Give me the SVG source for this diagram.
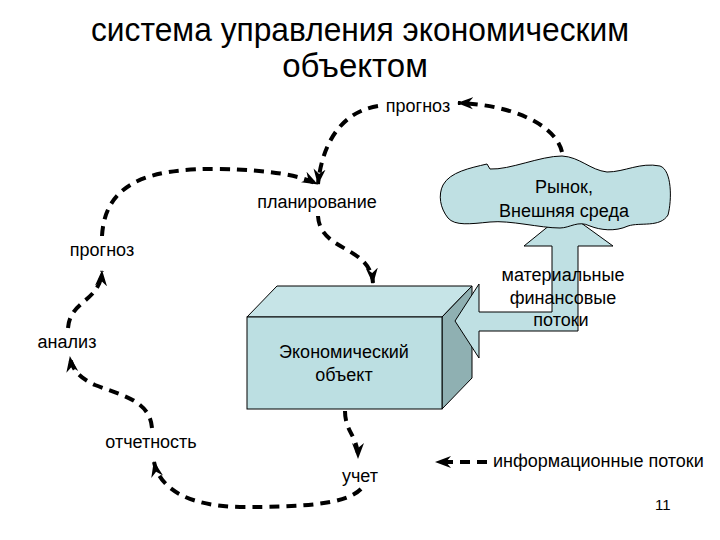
<svg xmlns="http://www.w3.org/2000/svg" width="720" height="540" viewBox="0 0 720 540">
<defs>
<style>
text{font-family:"Liberation Sans",Arial,sans-serif;fill:#000}
.lbl{font-size:18px;text-anchor:middle}
.title{font-size:33px;text-anchor:middle}
.dash{fill:none;stroke:#000;stroke-width:4;stroke-dasharray:10 7}
.shape{stroke:#000;stroke-width:1}
</style>
<marker id="ah" markerUnits="userSpaceOnUse" markerWidth="16" markerHeight="14" viewBox="0 0 16 14" refX="15" refY="7" orient="auto">
<path d="M0,1 L16,7 L0,13 L5,7 Z" fill="#000"/>
</marker>
</defs>
<rect width="720" height="540" fill="#fff"/>
<g id="title">
<text class="title" x="360" y="41" textLength="538" lengthAdjust="spacingAndGlyphs">система управления экономическим</text>
<text class="title" x="355" y="77">объектом</text>
</g>
<g id="object">
<polygon class="shape" fill="#c6e4e7" points="247,317 277,286 472,286 442,317"/>
<polygon class="shape" fill="#8fb0b2" points="442,317 472,286 472,378 442,409"/>
<rect class="shape" x="247" y="317" width="195" height="92" fill="#bcdfe2"/>
<text class="lbl" x="344" y="358">Экономический</text>
<text class="lbl" x="344" y="381">объект</text>
</g>
<g id="flow-arrow">
<polygon class="shape" fill="#bfe0e3" points="455,321 479,284 479,312 552,312 552,246 524,246 566,212 613,246 578,246 578,331 479,331 479,358"/>
</g>
<g id="market">
<path class="shape" fill="#bfe0e3" d="M443,185 C450,172 470,168 487,164 L490,169 C510,170 540,156 562,156 C580,157 590,170 607,172 C625,172 640,162 660,166 C672,170 672,200 668,215 C660,228 640,222 628,226 C615,232 600,230 590,226 C578,220 570,228 560,228 C540,228 510,220 490,222 C470,224 455,226 448,218 C440,208 438,195 443,185 Z"/>
<text class="lbl" x="564" y="193">Рынок,</text>
<text class="lbl" x="564" y="217">Внешняя среда</text>
</g>
<g id="flow-label">
<text class="lbl" x="563" y="281">материальные</text>
<text class="lbl" x="563" y="304">финансовые</text>
<text class="lbl" x="561" y="326">потоки</text>
</g>
<g id="labels">
<text class="lbl" x="418" y="112">прогноз</text>
<text class="lbl" x="317" y="208">планирование</text>
<text class="lbl" x="102" y="256">прогноз</text>
<text class="lbl" x="67" y="348">анализ</text>
<text class="lbl" x="151" y="448">отчетность</text>
<text class="lbl" x="360" y="482">учет</text>
</g>
<g id="connectors">
<path class="dash" marker-end="url(#ah)" d="M562,152 C555,122 505,104 458,103"/>
<path class="dash" marker-end="url(#ah)" d="M378,106 C340,112 322,145 318,184"/>
<path class="dash" marker-end="url(#ah)" d="M102,236 C105,182 150,168 220,169 C268,170 300,175 317,184"/>
<path class="dash" marker-end="url(#ah)" d="M318,216 C320,252 370,245 373,283"/>
<path class="dash" marker-end="url(#ah)" d="M68,328 C70,300 100,302 102,271"/>
<path class="dash" marker-end="url(#ah)" d="M152,428 C150,400 120,395 95,385 C80,378 72,370 70,357"/>
<path class="dash" marker-end="url(#ah)" d="M345,411 C345,432 358,436 358,458"/>
<path class="dash" marker-end="url(#ah)" d="M361,489 C345,505 300,507 240,507 C190,506 160,490 154,462"/>
</g>
<g id="legend">
<path class="dash" marker-end="url(#ah)" d="M487,462 L436,462"/>
<text x="493" y="467" style="font-size:18px">информационные потоки</text>
<text x="655" y="510" style="font-size:15px">11</text>
</g>
</svg>
